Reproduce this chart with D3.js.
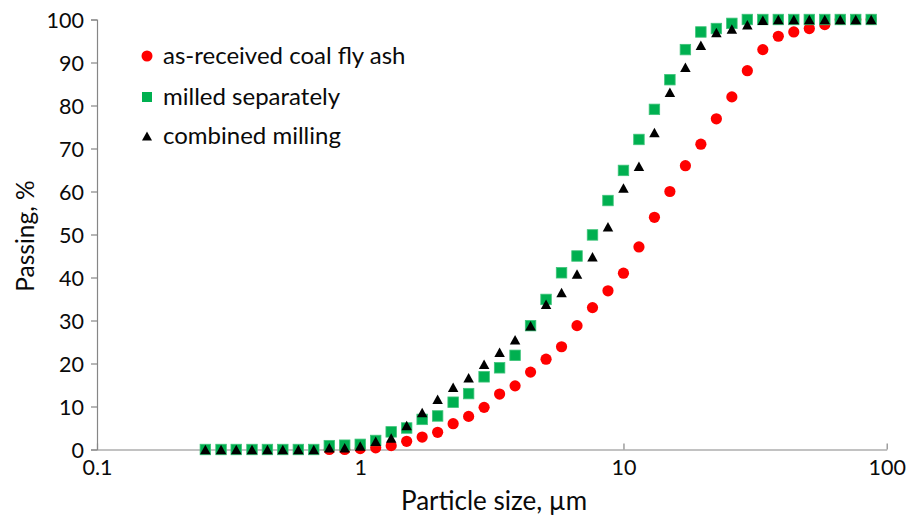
<!DOCTYPE html>
<html>
<head>
<meta charset="utf-8">
<script src="https://cdn.jsdelivr.net/npm/d3@7"></script>
<style>
  html, body { margin: 0; padding: 0; background: #fff; }
  svg { display: block; font-family: Lato, "Open Sans", sans-serif; }
</style>
</head>
<body>
<svg id="chart" width="907" height="519"></svg>
<script>
// Particle sizes (µm) of the measurement bins
const sizes = [0.258, 0.296, 0.338, 0.388, 0.444, 0.508, 0.582, 0.666, 0.763, 0.873,
  1.000, 1.145, 1.311, 1.501, 1.719, 1.968, 2.254, 2.581, 2.955, 3.384,
  3.875, 4.437, 5.081, 5.818, 6.661, 7.627, 8.733, 10.00, 11.45, 13.11,
  15.01, 17.19, 19.68, 22.54, 25.81, 29.55, 33.84, 38.75, 44.37, 50.81,
  58.18, 66.61, 76.27, 87.33];

// as-received coal fly ash (starts at bin index 8)
const asReceived = [null, null, null, null, null, null, null, null, 0, 0,
  0.2, 0.4, 0.9, 1.9, 2.9, 4.0, 6.0, 7.7, 9.8, 12.9,
  14.8, 18.0, 21.0, 23.9, 28.8, 33.0, 36.9, 41.0, 47.1, 54.0,
  60.0, 66.0, 71.0, 76.9, 82.0, 88.1, 93.0, 96.1, 97.1, 97.9,
  98.8, 100, 100, 100];

// milled separately
const milledSeparately = [0, 0, 0, 0, 0, 0, 0, 0, 0.9, 1.0,
  1.2, 2.1, 4.1, 5.0, 7.0, 7.8, 11.0, 13.0, 16.9, 19.0,
  21.9, 28.8, 34.9, 41.1, 45.0, 49.9, 57.9, 64.9, 72.1, 79.1,
  86.0, 93.0, 97.1, 97.9, 99.1, 100, 100, 100, 100, 100,
  100, 100, 100, 100];

// combined milling
const combinedMilling = [0, 0, 0, 0, 0, 0, 0, 0, 0.4, 0.4,
  0.8, 1.9, 2.7, 5.6, 8.6, 11.7, 14.5, 16.7, 19.8, 22.6,
  25.5, 28.8, 33.8, 36.5, 40.8, 44.8, 51.8, 60.8, 65.9, 73.7,
  83.1, 88.9, 94.0, 97.0, 97.8, 98.8, 99.8, 100, 100, 100,
  100, 100, 100, 100];

const seriesNames = ["as-received coal fly ash", "milled separately", "combined milling"];
const xTicks = [0.1, 1, 10, 100];
const xTickLabels = ["0.1", "1", "10", "100"];
const yTicks = [0, 10, 20, 30, 40, 50, 60, 70, 80, 90, 100];

(function () {
const svg = d3.select("#chart");
const pl = 97, pr = 886.7, pt = 19.5, pb = 449.5;

const x = d3.scaleLog().domain([0.1, 100]).range([pl, pr]);
const y = d3.scaleLinear().domain([0, 100]).range([pb, pt]);

const axisColor = "#868686";
const textColor = "#0a0a0a";

// Y axis
const yAxis = svg.append("g").attr("transform", `translate(${pl},0)`)
  .call(d3.axisLeft(y).tickValues(yTicks).tickSize(6).tickPadding(7).tickFormat(d3.format("d")));
yAxis.select(".domain").attr("stroke", axisColor).attr("stroke-width", 1.2);
yAxis.selectAll(".tick line").attr("stroke", axisColor).attr("stroke-width", 1.2);
yAxis.selectAll(".tick text").attr("fill", textColor).attr("font-size", 21.5)
  .attr("font-family", "Lato, sans-serif").attr("dy", "0.35em");

// X axis (ticks point inward)
const xAxis = svg.append("g").attr("transform", `translate(0,${pb})`)
  .call(d3.axisBottom(x).tickValues(xTicks).tickSizeInner(-6).tickSizeOuter(0).tickPadding(10)
    .tickFormat((d, i) => xTickLabels[i]));
xAxis.select(".domain").attr("stroke", axisColor).attr("stroke-width", 1.2);
xAxis.selectAll(".tick line").attr("stroke", axisColor).attr("stroke-width", 1.2);
xAxis.selectAll(".tick text").attr("fill", textColor).attr("font-size", 21.5)
  .attr("font-family", "Lato, sans-serif").attr("dy", "0.71em");

// Axis titles
svg.append("text").attr("x", 494).attr("y", 510)
  .attr("text-anchor", "middle").attr("font-size", 26).attr("fill", textColor)
  .text("Particle size, µm");
svg.append("text").attr("transform", `translate(34,236) rotate(-90)`)
  .attr("text-anchor", "middle").attr("font-size", 24.5).attr("fill", textColor)
  .text("Passing, %");

// Marker shapes
const circleR = 5.6;
const sq = 10.5;
const triW = 10.5, triH = 9.5;
function triPath(cx, cy) {
  return `M${cx},${cy - triH / 2}L${cx + triW / 2},${cy + triH / 2}L${cx - triW / 2},${cy + triH / 2}Z`;
}

const pts = (vals) => sizes.map((s, i) => ({ s, v: vals[i] })).filter(d => d.v !== null && d.v !== undefined);

const plot = svg.append("g");
plot.selectAll("circle.ar").data(pts(asReceived)).join("circle")
  .attr("class", "ar").attr("cx", d => x(d.s)).attr("cy", d => y(d.v))
  .attr("r", circleR).attr("fill", "#FF0000");
plot.selectAll("rect.ms").data(pts(milledSeparately)).join("rect")
  .attr("class", "ms").attr("x", d => x(d.s) - sq / 2).attr("y", d => y(d.v) - sq / 2)
  .attr("width", sq).attr("height", sq).attr("fill", "#00B050")
  .attr("stroke", "#3fc47a").attr("stroke-width", 0.8);
plot.selectAll("path.cm").data(pts(combinedMilling)).join("path")
  .attr("class", "cm").attr("d", d => triPath(x(d.s), y(d.v))).attr("fill", "#000");

// Legend
const legend = svg.append("g");
const legY = [56, 97, 136];
const legX = 147;
legend.append("circle").attr("cx", legX).attr("cy", legY[0]).attr("r", 5.5).attr("fill", "#FF0000");
legend.append("rect").attr("x", legX - 5).attr("y", legY[1] - 5).attr("width", 10).attr("height", 10).attr("fill", "#00B050");
legend.append("path").attr("d", `M${legX},${legY[2] - 4.5}L${legX + 5},${legY[2] + 4.5}L${legX - 5},${legY[2] + 4.5}Z`).attr("fill", "#000");
seriesNames.forEach((n, i) => {
  legend.append("text").attr("x", 163).attr("y", legY[i]).attr("dy", "0.35em")
    .attr("font-size", 24).attr("fill", textColor).text(n);
});
})();
</script>
</body>
</html>
